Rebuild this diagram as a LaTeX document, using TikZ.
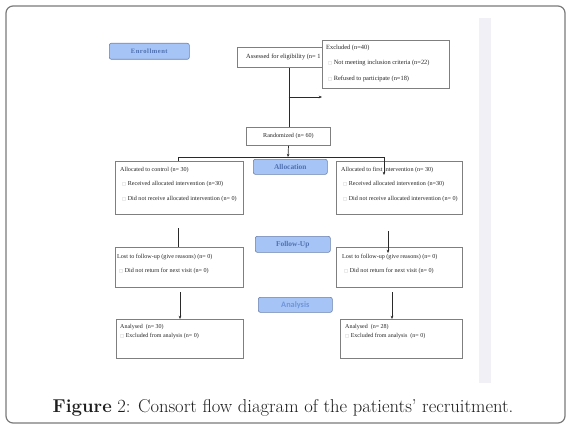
\documentclass[tikz,border=0pt]{standalone}
\usepackage{fontspec}
\newfontfamily\tnr{Liberation Serif}
\newfontfamily\dejavu{DejaVu Sans}
\newfontfamily\carl{Carlito}
\usetikzlibrary{arrows.meta,calc}
\definecolor{lblfill}{HTML}{A6C4F6}
\definecolor{lbldraw}{HTML}{6A80AC}
\definecolor{lbltext}{HTML}{4F70B0}
\definecolor{anatext}{HTML}{6F95DA}
\definecolor{boxgray}{HTML}{7F7F7F}
\definecolor{framec}{HTML}{7A7A7A}
\definecolor{stripc}{HTML}{F0F0F6}
\definecolor{linec}{HTML}{2A2A2A}
\definecolor{captc}{HTML}{1E1E1E}
\newcommand{\sqb}{{\dejavu\color{boxgray!60}\fontsize{4.3}{4.3}\selectfont □}}
\tikzset{
  flowbox/.style={draw=boxgray, fill=white, line width=0.95pt, rectangle, anchor=north west, inner sep=0pt},
  lbl/.style={draw=lbldraw, fill=lblfill, line width=0.6pt, rounded corners=2pt, anchor=north west, inner sep=0pt, text=lbltext},
  txt/.style={inner sep=0pt, align=left, text=black!85, font=\tnr\fontsize{6.1}{14.5}\selectfont},
  conn/.style={draw=linec, line width=0.7pt},
  arr/.style={conn, -{Stealth[length=3.2pt,width=2.6pt]}}
}
\begin{document}
\begin{tikzpicture}[x=1pt,y=-1pt]
\useasboundingbox (0,0) rectangle (570,428);
\draw[framec, line width=1.2pt, rounded corners=7pt] (6,6) rectangle (565,423);
\fill[stripc] (479,18) rectangle (491,383);

% section labels
\node[lbl, minimum width=80pt, minimum height=16pt] (enr) at (109,43) {};
\node[text=lbltext, font=\tnr\bfseries\fontsize{6.6}{6.6}\selectfont, inner sep=0pt] (enrt) at (enr.center) {E\kern0.5pt n\kern0.5pt r\kern0.5pt o\kern0.5pt l\kern0.5pt l\kern0.5pt m\kern0.5pt e\kern0.5pt n\kern0.5pt t};
\node[lbl, minimum width=74pt, minimum height=15pt] (alloc) at (253,159) {};
\node[text=lbltext, font=\tnr\bfseries\fontsize{7.4}{7.4}\selectfont, inner sep=0pt] (alloct) at (alloc.center) {Allocation};
\node[lbl, minimum width=75pt, minimum height=16pt] (fu) at (255,236) {};
\node[text=lbltext, font=\tnr\bfseries\fontsize{7.4}{7.4}\selectfont, inner sep=0pt] (fut) at (fu.center) {Follow-Up};
\node[lbl, minimum width=74pt, minimum height=15pt] (ana) at (258,297) {};
\node[text=anatext, font=\carl\bfseries\fontsize{8.3}{8.3}\selectfont, inner sep=0pt] (anat) at (ana.center) {Analysis};

% enrollment
\node[flowbox, minimum width=103pt, minimum height=20pt] (assess) at (237,47) {};
\node[txt, anchor=base west, font=\tnr\fontsize{6.4}{6.4}\selectfont] (assesst) at (246,59) {Assessed for eligibility (n= 1};
\node[flowbox, minimum width=127pt, minimum height=48pt] (excl) at (322,40) {};
\node[txt, anchor=north west, font=\tnr\fontsize{6.4}{15.5}\selectfont] (exclt) at (326,44.6)
  {Excluded (n=40)\\ \hspace{2pt}\sqb\ Not meeting inclusion criteria (n=22)\\ \hspace{2pt}\sqb\ Refused to participate (n=18)};

\node[flowbox, minimum width=84pt, minimum height=18pt] (rand) at (246,127) {};
\node[txt] (randt) at (rand.center) {Randomized (n= 60)};

% allocation
\node[flowbox, minimum width=128pt, minimum height=53pt] (allL) at (115,161) {};
\node[txt, anchor=north west] (allLt) at (120,166.8)
  {Allocated to control (n= 30)\\ \hspace{2pt}\sqb\ Received allocated intervention (n=30)\\ \hspace{2pt}\sqb\ Did not receive allocated intervention (n= 0)};
\node[flowbox, minimum width=126pt, minimum height=53pt] (allR) at (336,161) {};
\node[txt, anchor=north west] (allRt) at (341,166.8)
  {Allocated to first intervention (n= 30)\\ \hspace{2pt}\sqb\ Received allocated intervention (n=30)\\ \hspace{2pt}\sqb\ Did not receive allocated intervention (n= 0)};

% follow-up
\node[flowbox, minimum width=128pt, minimum height=40pt] (fuL) at (115,247) {};
\node[txt, anchor=north west] (fuLt) at (117,253.8)
  {Lost to follow-up (give reasons) (n= 0)\\ \hspace{2pt}\sqb\ Did not return for next visit (n= 0)};
\node[flowbox, minimum width=126pt, minimum height=40pt] (fuR) at (336,247) {};
\node[txt, anchor=north west] (fuRt) at (342,253.8)
  {Lost to follow-up (give reasons) (n= 0)\\ \hspace{2pt}\sqb\ Did not return for next visit (n= 0)};

% analysis
\node[flowbox, minimum width=127pt, minimum height=39pt] (anL) at (116,319) {};
\node[txt, anchor=north west, font=\tnr\fontsize{6}{9}\selectfont] (anLt) at (120,323.8)
  {Analysed\ \ (n= 30)\\ \sqb\ Excluded from analysis (n= 0)};
\node[flowbox, minimum width=122pt, minimum height=39pt] (anR) at (340,319) {};
\node[txt, anchor=north west, font=\tnr\fontsize{6}{9}\selectfont] (anRt) at (345,323.8)
  {Analysed\ \ (n= 28)\\ \sqb\ Excluded from analysis\ \ (n= 0)};

% connectors
\coordinate (j1) at (288.5,97);
\coordinate (hb) at (288,157);
\coordinate (hl) at (178,157);
\coordinate (hr) at (384,157);
\coordinate (ar) at (384,175);
\coordinate (fl0) at (178,228);
\coordinate (fr0) at (388,231);
\coordinate (fr1) at (388,253);
\coordinate (al0) at (180,292);
\coordinate (ar0) at (392,292);

\draw[conn] (assess.south) -- (assess.south |- rand.north);
\draw[arr] (j1) -- (j1 -| excl.west);
\draw[arr] (rand.south) -- (hb);
\draw[conn] (hl |- allL.north) -- (hl) -- (hr);
\draw[arr] (hr) -- (ar);
\draw[conn] (fl0) -- (fl0 |- fuL.north);
\draw[arr] (fr0) -- (fr1);
\draw[arr] (al0) -- (al0 |- anL.north);
\draw[arr] (ar0) -- (ar0 |- anR.north);

% caption
\node[anchor=base, inner sep=0pt, text=captc, font=\fontsize{18.6}{20}\selectfont] (cap) at (283,412)
  {\textbf{Figure} 2: Consort flow diagram of the patients’ recruitment.};
\end{tikzpicture}
\end{document}
